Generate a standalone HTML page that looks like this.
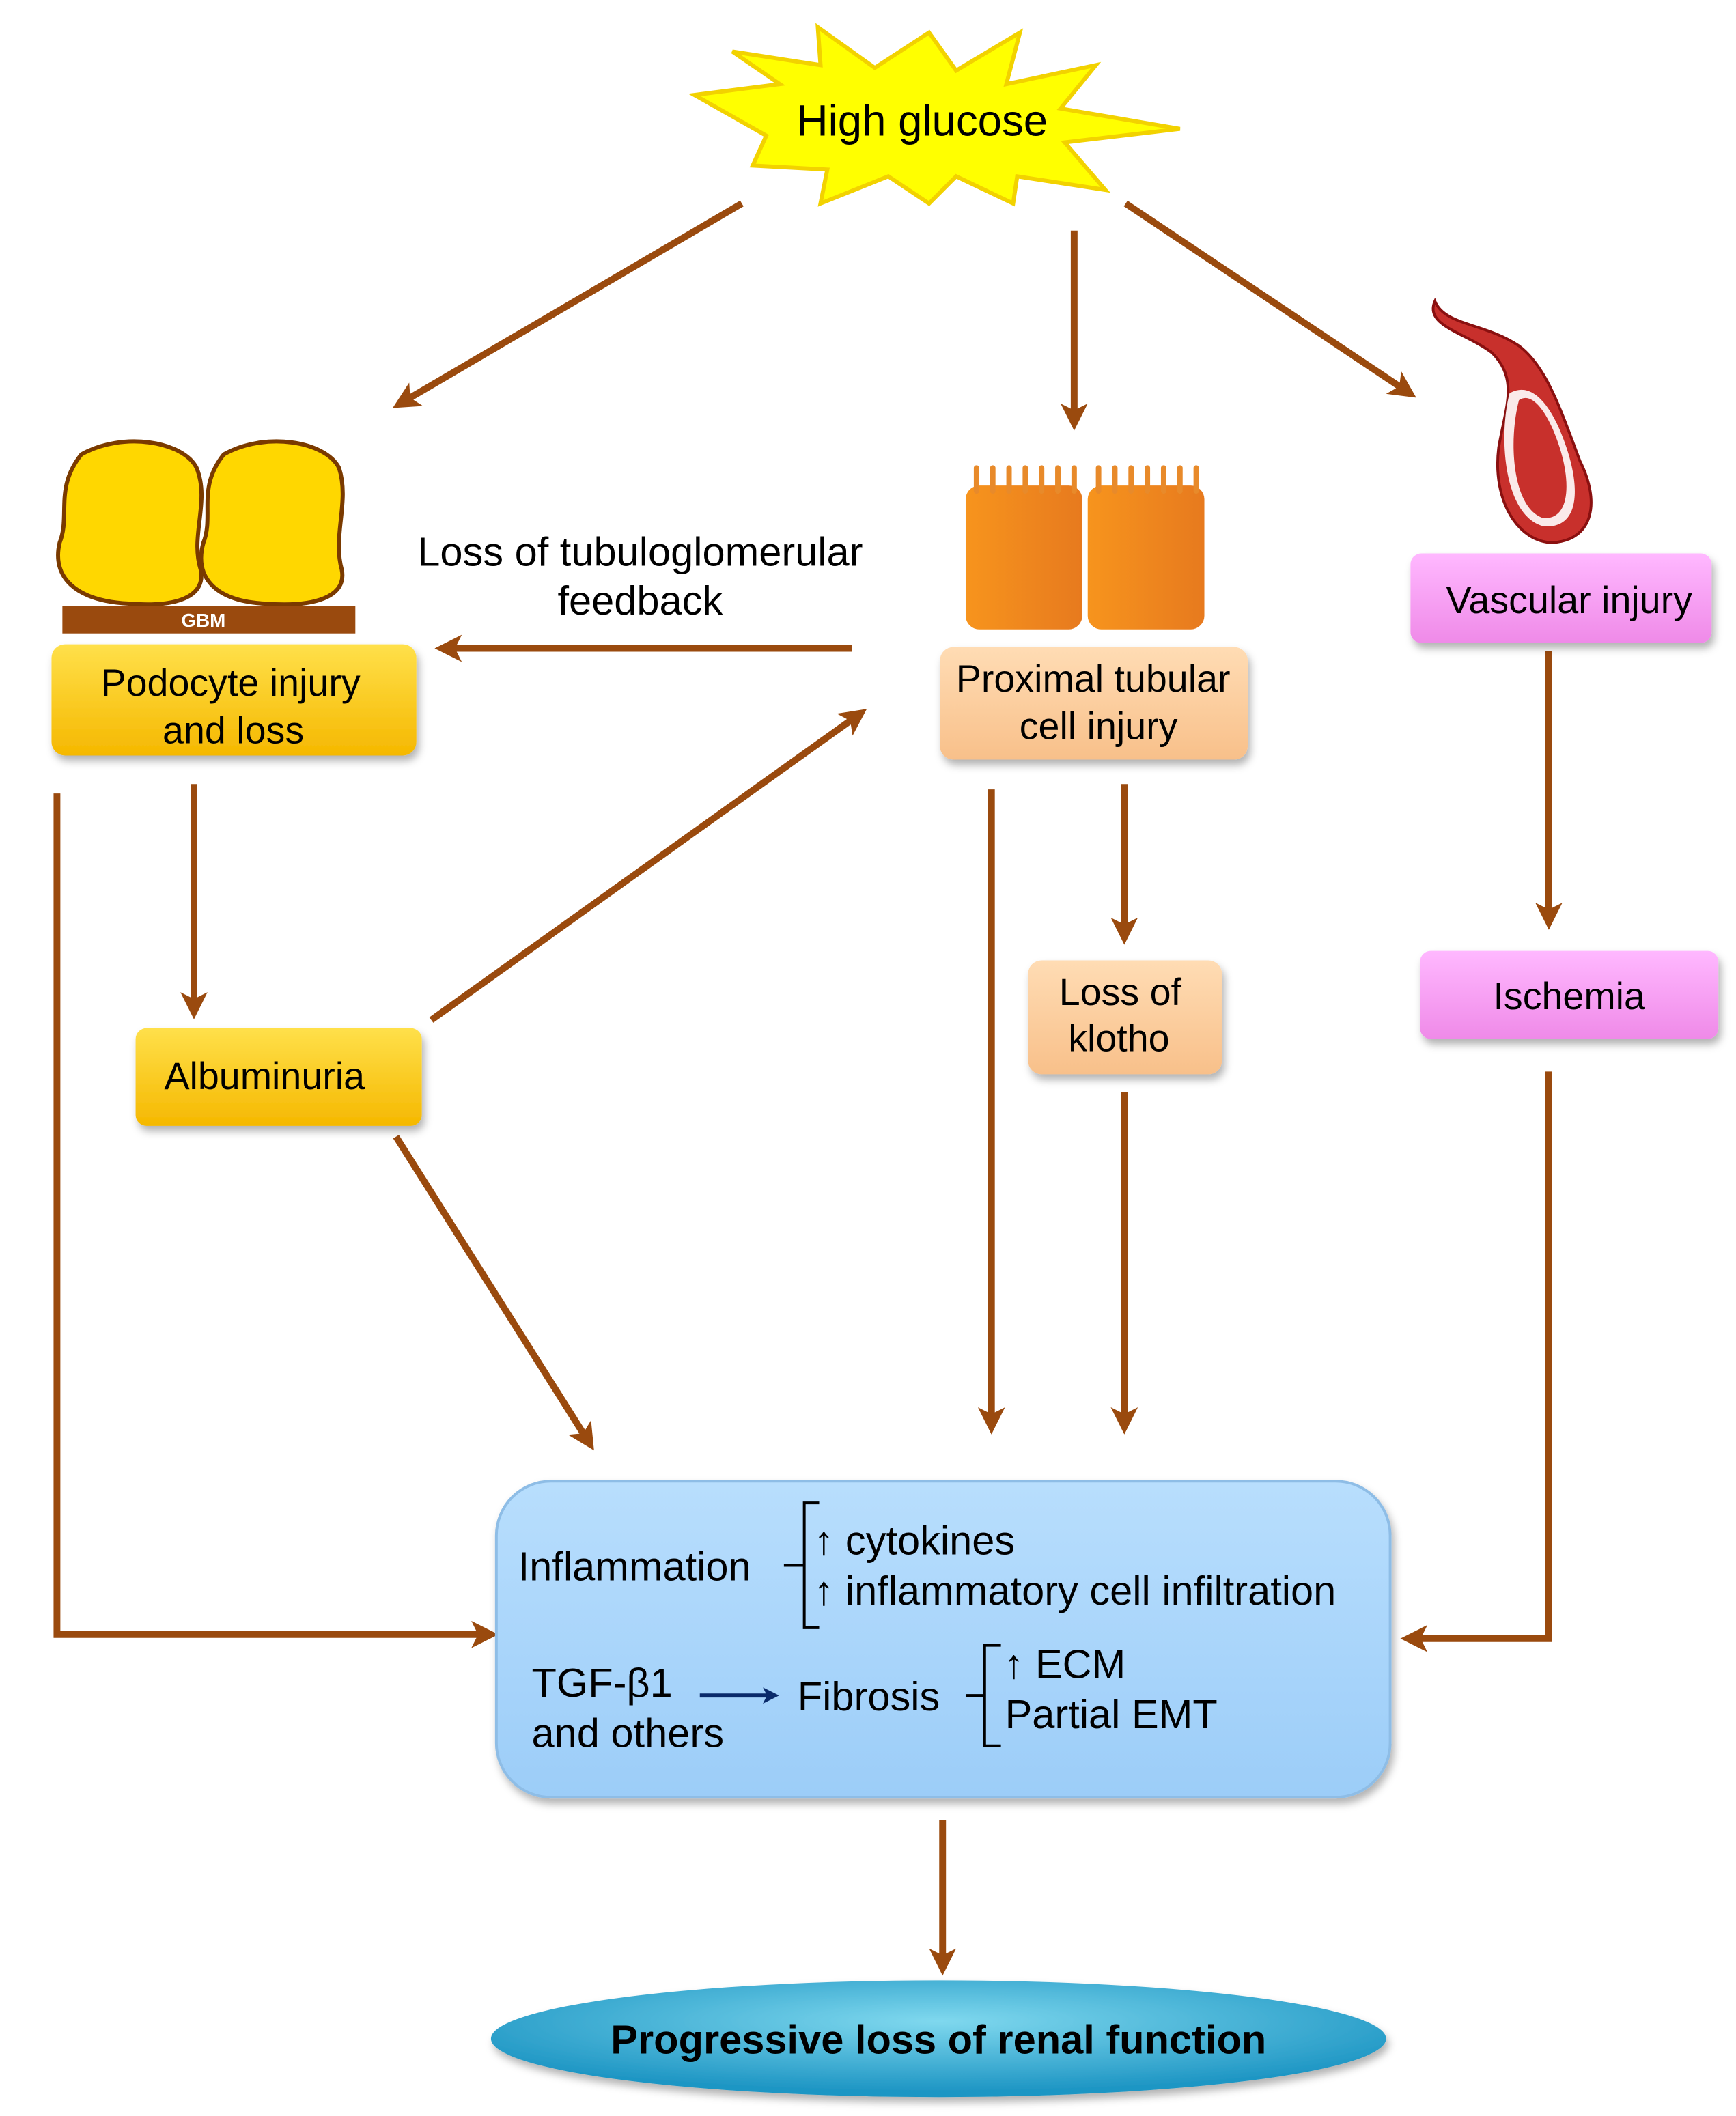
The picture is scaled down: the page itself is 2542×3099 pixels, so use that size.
<!DOCTYPE html>
<html><head><meta charset="utf-8"><style>
html,body{margin:0;padding:0;background:#fff;}
svg{display:block;}
text{font-family:"Liberation Sans",sans-serif;fill:#000;}
</style></head><body>
<svg width="2542" height="3099" viewBox="0 0 1280 1560" preserveAspectRatio="none" xmlns="http://www.w3.org/2000/svg">
<defs>
<marker id="ah" markerWidth="4" markerHeight="4" refX="2.5" refY="2" orient="auto" markerUnits="strokeWidth"><path d="M0,0 L4,2 L0,4 L1,2 z" fill="#9a4a0e"/></marker>
<marker id="an" markerWidth="4" markerHeight="4" refX="2.5" refY="2" orient="auto" markerUnits="strokeWidth"><path d="M0,0 L4,2 L0,4 L1,2 z" fill="#0a2a6a"/></marker>
<linearGradient id="gy" x1="0" y1="0" x2="0" y2="1"><stop offset="0" stop-color="#ffe04a"/><stop offset="1" stop-color="#f5b800"/></linearGradient>
<linearGradient id="gp" x1="0" y1="0" x2="0" y2="1"><stop offset="0" stop-color="#ffdcb4"/><stop offset="1" stop-color="#f8c08a"/></linearGradient>
<linearGradient id="gk" x1="0" y1="0" x2="0" y2="1"><stop offset="0" stop-color="#ffb8ff"/><stop offset="1" stop-color="#ef8ae8"/></linearGradient>
<linearGradient id="gb" x1="0" y1="0" x2="0" y2="1"><stop offset="0" stop-color="#b8defd"/><stop offset="1" stop-color="#9ccdf8"/></linearGradient>
<radialGradient id="ge" cx="0.5" cy="0.35" r="0.6"><stop offset="0" stop-color="#7fd8ee"/><stop offset="1" stop-color="#1e96c4"/></radialGradient>
<linearGradient id="go" x1="0" y1="0" x2="1" y2="0"><stop offset="0" stop-color="#f7941d"/><stop offset="1" stop-color="#e77a1e"/></linearGradient>
<filter id="sh" x="-10%" y="-10%" width="120%" height="130%"><feDropShadow dx="2" dy="4" stdDeviation="3" flood-color="#000" flood-opacity="0.3"/></filter>
</defs>

<!-- starburst -->
<polygon points="512,70 575,62 540,38 605,48 603,20 645,50 685,24 705,52 752,24 742,62 808,48 782,80 870,95 785,105 815,140 750,130 747,150 705,130 685,150 655,130 605,150 610,125 555,122 565,100" fill="#ffff00" stroke="#f2d200" stroke-width="3"/>
<text x="680" y="100" font-size="32" text-anchor="middle">High glucose</text>

<g stroke="#9a4a0e" stroke-width="5" fill="none" marker-end="url(#ah)">
<line x1="547" y1="150" x2="296" y2="297"/>
<line x1="792" y1="170" x2="792" y2="310"/>
<line x1="830" y1="150" x2="1038" y2="289"/>
<line x1="628" y1="478" x2="328" y2="478"/>
<line x1="143" y1="578" x2="143" y2="744"/>
<line x1="318" y1="752" x2="633" y2="527"/>
<line x1="829" y1="578" x2="829" y2="689"/>
<line x1="731" y1="582" x2="731" y2="1050"/>
<line x1="829" y1="805" x2="829" y2="1050"/>
<line x1="1142" y1="480" x2="1142" y2="678"/>
<line x1="292" y1="838" x2="434" y2="1063"/>
<polyline points="42,585 42,1205 360,1205"/>
<polyline points="1142,790 1142,1208 1040,1208"/>
<line x1="695" y1="1342" x2="695" y2="1449"/>
</g>

<!-- podocytes -->
<path d="M60,335 C90,318 135,325 145,345 C155,370 140,395 148,420 C152,440 130,448 95,445 C55,443 38,425 44,400 C52,380 40,360 60,335 Z" fill="#ffd700" stroke="#7a3a00" stroke-width="3"/>
<path d="M165,335 C195,318 240,325 250,345 C258,370 245,395 252,420 C256,440 232,448 195,445 C158,443 143,425 150,400 C158,380 145,360 165,335 Z" fill="#ffd700" stroke="#7a3a00" stroke-width="3"/>
<rect x="46" y="447" width="216" height="20" fill="#9a4a0e"/>
<text x="150" y="462" font-size="14" font-weight="bold" text-anchor="middle" style="fill:#fff">GBM</text>

<rect x="38" y="475" width="269" height="82" rx="10" fill="url(#gy)" filter="url(#sh)"/>
<text x="170" y="513" font-size="28" text-anchor="middle">Podocyte injury</text>
<text x="172" y="548" font-size="28" text-anchor="middle">and loss</text>

<text x="472" y="417" font-size="30" text-anchor="middle">Loss of tubuloglomerular</text>
<text x="472" y="453" font-size="30" text-anchor="middle">feedback</text>

<!-- tubular cells -->
<g fill="url(#go)">
<rect x="712" y="358" width="86" height="106" rx="10"/>
<rect x="802" y="358" width="86" height="106" rx="10"/>
</g>
<g stroke="#e88a2a" stroke-width="4" stroke-linecap="round">
<line x1="720" y1="345" x2="720" y2="362"/><line x1="732" y1="345" x2="732" y2="362"/><line x1="744" y1="345" x2="744" y2="362"/><line x1="756" y1="345" x2="756" y2="362"/><line x1="768" y1="345" x2="768" y2="362"/><line x1="780" y1="345" x2="780" y2="362"/><line x1="792" y1="345" x2="792" y2="362"/>
<line x1="810" y1="345" x2="810" y2="362"/><line x1="822" y1="345" x2="822" y2="362"/><line x1="834" y1="345" x2="834" y2="362"/><line x1="846" y1="345" x2="846" y2="362"/><line x1="858" y1="345" x2="858" y2="362"/><line x1="870" y1="345" x2="870" y2="362"/><line x1="882" y1="345" x2="882" y2="362"/>
</g>

<rect x="693" y="477" width="227" height="83" rx="10" fill="url(#gp)" filter="url(#sh)"/>
<text x="806" y="510" font-size="28" text-anchor="middle">Proximal tubular</text>
<text x="810" y="545" font-size="28" text-anchor="middle">cell injury</text>

<!-- vessel -->
<path d="M1058,222 C1050,240 1080,245 1100,260 C1120,280 1110,300 1105,330 C1100,370 1120,400 1145,400 C1175,398 1180,370 1165,340 C1150,300 1140,270 1120,255 C1095,238 1065,240 1058,222 Z" fill="#c8302c" stroke="#8a1010" stroke-width="2"/>
<path d="M1113,290 C1105,320 1108,380 1138,388 C1165,390 1165,360 1155,330 C1145,300 1130,280 1113,290 Z" fill="#fff" opacity="0.9"/>
<path d="M1120,295 C1112,325 1115,375 1138,382 C1158,383 1158,355 1150,330 C1142,305 1130,288 1120,295 Z" fill="#c8302c"/>

<rect x="1040" y="408" width="222" height="66" rx="8" fill="url(#gk)" filter="url(#sh)"/>
<text x="1157" y="452" font-size="28" text-anchor="middle">Vascular injury</text>

<rect x="100" y="758" width="211" height="72" rx="8" fill="url(#gy)" filter="url(#sh)"/>
<text x="195" y="803" font-size="28" text-anchor="middle">Albuminuria</text>

<rect x="758" y="708" width="143" height="84" rx="10" fill="url(#gp)" filter="url(#sh)"/>
<text x="826" y="741" font-size="28" text-anchor="middle">Loss of</text>
<text x="825" y="775" font-size="28" text-anchor="middle">klotho</text>

<rect x="1047" y="701" width="220" height="65" rx="8" fill="url(#gk)" filter="url(#sh)"/>
<text x="1157" y="744" font-size="28" text-anchor="middle">Ischemia</text>

<!-- big box -->
<rect x="366" y="1092" width="659" height="233" rx="40" fill="url(#gb)" stroke="#8ebde6" stroke-width="2" filter="url(#sh)"/>
<text x="382" y="1165" font-size="30">Inflammation</text>
<path d="M604,1108 L593,1108 L593,1200 L604,1200 M593,1154 L578,1154" stroke="#000" stroke-width="2" fill="none"/>
<text x="600" y="1146" font-size="30">↑ cytokines</text>
<text x="600" y="1183" font-size="30">↑ inflammatory cell infiltration</text>
<text x="392" y="1251" font-size="30">TGF-β1</text>
<text x="392" y="1288" font-size="30">and others</text>
<line x1="516" y1="1250" x2="570" y2="1250" stroke="#0a2a6a" stroke-width="3" marker-end="url(#an)"/>
<text x="588" y="1261" font-size="30">Fibrosis</text>
<path d="M738,1213 L726,1213 L726,1287 L738,1287 M726,1250 L712,1250" stroke="#000" stroke-width="2" fill="none"/>
<text x="740" y="1237" font-size="30">↑ ECM</text>
<text x="741" y="1274" font-size="30">Partial EMT</text>

<ellipse cx="692" cy="1503" rx="330" ry="43" fill="url(#ge)" filter="url(#sh)"/>
<text x="692" y="1514" font-size="30" font-weight="bold" text-anchor="middle">Progressive loss of renal function</text>
</svg>
</body></html>
